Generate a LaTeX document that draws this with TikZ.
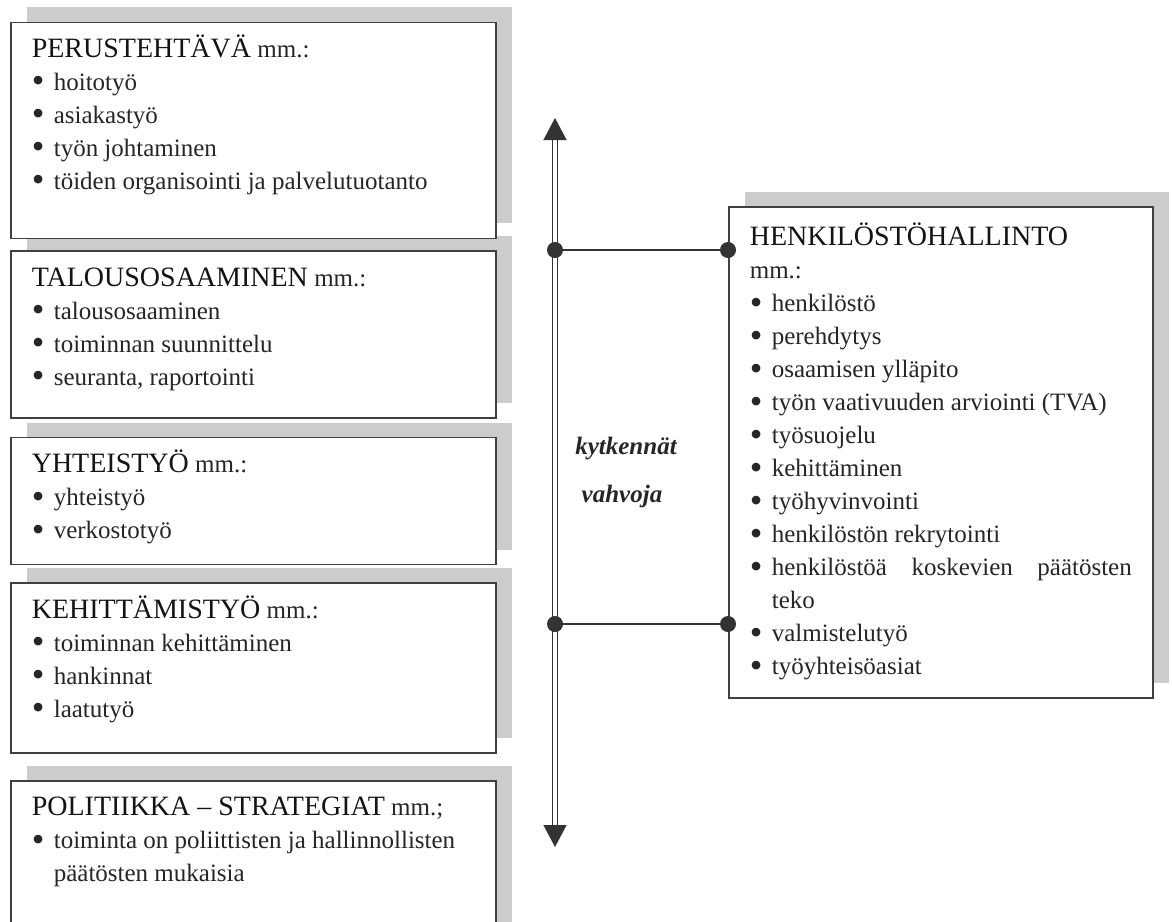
\documentclass[tikz,border=0pt]{standalone}
\usepackage{fontspec}
\setmainfont{Liberation Serif}
\usetikzlibrary{positioning,arrows.meta,shadows}

\hyphenpenalty=10000
\exhyphenpenalty=10000

\newcommand{\bul}[1]{\par\hangindent=22pt\hangafter=1\makebox[22pt][l]{\raisebox{-2.5pt}{\fontsize{36}{33}\selectfont\textbullet}}#1}
\newcommand{\boxbody}[3]{\parbox[t][#1][t]{#2}{\setlength{\parindent}{0pt}\rule{0pt}{26pt}#3}}
\newcommand{\hd}[1]{{\fontsize{28}{33}\selectfont\color{black!92}#1}}

\begin{document}
\begin{tikzpicture}[
    x=1pt, y=1pt,
    box/.style={draw=black!75, line width=1.6pt, fill=white, inner xsep=21pt, inner ysep=9pt, anchor=north west, text=black!85, font=\fontsize{25}{33}\selectfont, drop shadow={shadow xshift=16pt, shadow yshift=15pt, fill=black!20, opacity=1}},
    link/.style={draw=black!80, line width=2pt},
    dot/.style={circle, fill=black!80, inner sep=0pt, minimum size=16pt},
    axis/.style={draw=black!80, line width=1.3pt, double=white, double distance=3.5pt, {Triangle[width=23pt,length=22pt]}-{Triangle[width=23pt,length=22pt]}},
    lbl/.style={font=\fontsize{25}{30}\selectfont\bfseries\itshape, text=black!85}
]
\useasboundingbox (0,0) rectangle (1172,-921);
\clip (0,0) rectangle (1172,-921);

% Boxes (bottom first, so upper boxes cover the shadows below them)
\node[box] (polit) at (10,-780) {\boxbody{200pt}{443pt}{\hd{POLITIIKKA – STRATEGIAT} mm.;
    \bul{toiminta on poliittisten ja hallinnollisten\\ päätösten mukaisia}}};
\node[box, above=26pt of polit] (kehit) {\boxbody{152pt}{443pt}{\hd{KEHITTÄMISTYÖ} mm.:
    \bul{toiminnan kehittäminen}\bul{hankinnat}\bul{laatutyö}}};
\node[box, above=17pt of kehit] (yhteis) {\boxbody{109pt}{443pt}{\hd{YHTEISTYÖ} mm.:
    \bul{yhteistyö}\bul{verkostotyö}}};
\node[box, above=18pt of yhteis] (talous) {\boxbody{149pt}{443pt}{\hd{TALOUSOSAAMINEN} mm.:
    \bul{talousosaaminen}\bul{toiminnan suunnittelu}\bul{seuranta, raportointi}}};
\node[box, above=11pt of talous] (perus) {\boxbody{198pt}{443pt}{\hd{PERUSTEHTÄVÄ} mm.:
    \bul{hoitotyö}\bul{asiakastyö}\bul{työn johtaminen}\bul{töiden organisointi ja palvelutuotanto}}};

\node[box, inner ysep=13pt] (henk) at (728,-206) {\boxbody{465pt}{382pt}{\hd{HENKILÖSTÖHALLINTO}\par mm.:
    \bul{henkilöstö}\bul{perehdytys}\bul{osaamisen ylläpito}\bul{työn vaativuuden arviointi (TVA)}
    \bul{työsuojelu}\bul{kehittäminen}\bul{työhyvinvointi}\bul{henkilöstön rekrytointi}
    \bul{henkilöstöä koskevien päätösten\linebreak teko}\bul{valmistelutyö}\bul{työyhteisöasiat}}};

% Axis
\coordinate (atop) at (555,-118);
\coordinate (abot) at (555,-847);
\draw[axis] (abot) -- (atop);

% Connectors
\node[dot] (d1) at (555,-250) {};
\node[dot] (d2) at (henk.west |- d1) {};
\node[dot] (d3) at (555,-624) {};
\node[dot] (d4) at (henk.west |- d3) {};
\draw[link] (d1) -- (d2);
\draw[link] (d3) -- (d4);

% Labels
\node[lbl] (kyt) at (626,-449) {kytkennät};
\node[lbl] (vah) at (622,-496) {vahvoja};

\end{tikzpicture}
\end{document}
